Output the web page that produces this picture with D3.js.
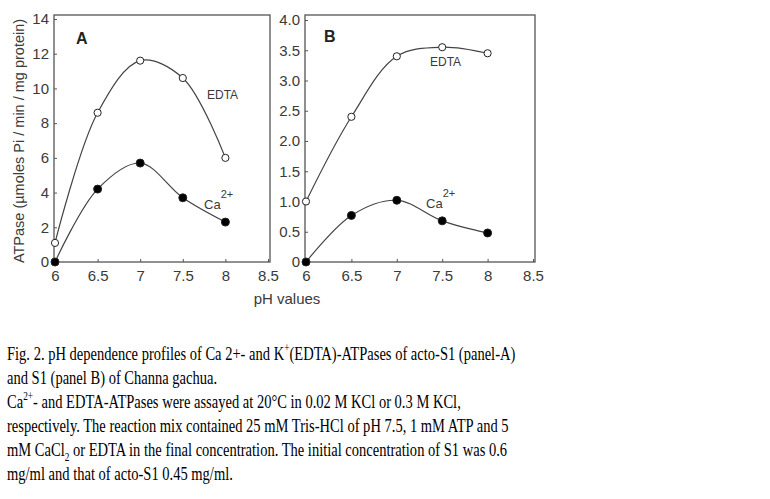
<!DOCTYPE html>
<html><head><meta charset="utf-8">
<script src="https://cdn.jsdelivr.net/npm/d3@7"></script>
<style>body{margin:0;background:#fff}svg{display:block}</style>
</head><body>
<script>
const ph = [6, 6.5, 7, 7.5, 8];
const xTicks = [6, 6.5, 7, 7.5, 8, 8.5];
const aEDTA = [1.1, 8.6, 11.6, 10.6, 6.0];
const aCa = [0, 4.2, 5.7, 3.7, 2.3];
const bEDTA = [1.0, 2.4, 3.4, 3.55, 3.45];
const bCa = [0, 0.77, 1.02, 0.68, 0.48];
const aYTicks = [0, 2, 4, 6, 8, 10, 12, 14];
const bYTicks = [0, 0.5, 1.0, 1.5, 2.0, 2.5, 3.0, 3.5, 4.0];
const bYLabels = ["0", "0.5", "1.0", "1.5", "2.0", "2.5", "3.0", "3.5", "4.0"];

const svg = d3.select("body").append("svg").attr("width", 770).attr("height", 499);
const ink = "#3a3a3a";
const font = "Liberation Sans, Arial, sans-serif";

function panel(opt) {
  const x = d3.scaleLinear().domain([6, 8.5]).range([opt.x0, opt.x1]);
  const y = d3.scaleLinear().domain([0, opt.ymax]).range([opt.yb, opt.yt]);
  const g = svg.append("g");
  g.append("rect").attr("x", opt.fx0).attr("y", opt.fy0).attr("width", opt.fx1 - opt.fx0).attr("height", opt.yb - opt.fy0)
    .attr("fill", "none").attr("stroke", "#555").attr("stroke-width", 1.3);
  const xa = g.append("g").attr("transform", `translate(0,${opt.yb})`)
    .call(d3.axisBottom(x).tickValues(xTicks).tickSize(-3).tickPadding(8).tickFormat(d3.format("")));
  xa.select(".domain").remove();
  xa.selectAll("line").attr("stroke", "#555");
  xa.selectAll("text").attr("font-family", font).attr("font-size", 15).attr("fill", ink);
  const ya = g.append("g").attr("transform", `translate(${opt.fx0},0)`)
    .call(d3.axisLeft(y).tickValues(opt.yTicks).tickSize(-3).tickPadding(5).tickFormat((d, i) => opt.yLabels[i]));
  ya.select(".domain").remove();
  ya.selectAll("line").attr("stroke", "#555");
  ya.selectAll("text").attr("font-family", font).attr("font-size", 15).attr("fill", ink);
  const line = d3.line().x((d, i) => x(ph[i])).y(d => y(d)).curve(d3.curveCatmullRom.alpha(0.5));
  [[opt.edta, true], [opt.ca, false]].forEach(([vals, open]) => {
    g.append("path").attr("d", line(vals)).attr("fill", "none").attr("stroke", "#444").attr("stroke-width", 1.2);
    g.selectAll(null).data(vals).enter().append("circle")
      .attr("cx", (d, i) => x(ph[i])).attr("cy", d => y(d)).attr("r", open ? 3.6 : 4)
      .attr("fill", open ? "#fff" : "#000").attr("stroke", "#222").attr("stroke-width", 1);
  });
  g.append("text").attr("x", opt.lx).attr("y", opt.ly).text(opt.letter)
    .attr("font-family", font).attr("font-weight", "bold").attr("font-size", 16).attr("fill", "#222");
  g.append("text").attr("x", opt.ex).attr("y", opt.ey).text("EDTA")
    .attr("font-family", font).attr("font-size", 12).attr("fill", ink);
  const t = g.append("text").attr("x", opt.cx).attr("y", opt.cy)
    .attr("font-family", font).attr("font-size", 13).attr("fill", ink);
  t.append("tspan").text("Ca");
  t.append("tspan").attr("dy", -11).attr("font-size", 11).text("2+");
}

panel({x0: 55, x1: 268, fx0: 54, fx1: 270, fy0: 15, yt: 19, yb: 262, ymax: 14,
  yTicks: aYTicks, yLabels: aYTicks.map(String), edta: aEDTA, ca: aCa,
  letter: "A", lx: 76, ly: 44, ex: 207, ey: 99, cx: 204, cy: 209});
panel({x0: 306, x1: 533, fx0: 305, fx1: 535, fy0: 15, yt: 20, yb: 262, ymax: 4,
  yTicks: bYTicks, yLabels: bYLabels, edta: bEDTA, ca: bCa,
  letter: "B", lx: 324, ly: 42, ex: 430, ey: 66, cx: 426, cy: 208});

svg.append("text").attr("transform", "translate(24,141) rotate(-90)").attr("text-anchor", "middle")
  .attr("font-family", font).attr("font-size", 14.5).attr("fill", ink)
  .text("ATPase  (\u00b5moles Pi / min / mg protein)");
svg.append("text").attr("x", 287).attr("y", 304).attr("text-anchor", "middle")
  .attr("font-family", font).attr("font-size", 15).attr("fill", ink).text("pH values");

const serif = "Liberation Serif, Times New Roman, serif";
const cap = svg.append("g").attr("transform", "translate(7,0) scale(0.745,1)")
  .attr("font-family", serif).attr("font-size", 19.5).attr("fill", "#000");
const lines = [
  [["Fig. 2. pH dependence profiles of Ca 2+- and K", 0], ["+", 1], ["(EDTA)-ATPases of acto-S1 (panel-A)", 0]],
  [["and S1 (panel B) of Channa gachua.", 0]],
  [["Ca", 0], ["2+", 1], ["- and EDTA-ATPases were assayed at 20\u00b0C in 0.02 M KCl or 0.3 M KCl,", 0]],
  [["respectively. The reaction mix contained 25 mM Tris-HCl of pH 7.5, 1 mM ATP and 5", 0]],
  [["mM CaCl", 0], ["2", -1], [" or EDTA in the final concentration. The initial concentration of S1 was 0.6", 0]],
  [["mg/ml and that of acto-S1 0.45 mg/ml.", 0]]
];
const ys = [360, 384, 408, 432, 456, 480];
lines.forEach((segs, i) => {
  const t = cap.append("text").attr("x", 0).attr("y", ys[i]);
  segs.forEach(([s, k]) => {
    const sp = t.append("tspan").text(s);
    if (k === 1) sp.attr("font-size", 12.5).attr("baseline-shift", "8");
    if (k === -1) sp.attr("font-size", 12.5).attr("baseline-shift", "-4");
  });
});
</script>
</body></html>
